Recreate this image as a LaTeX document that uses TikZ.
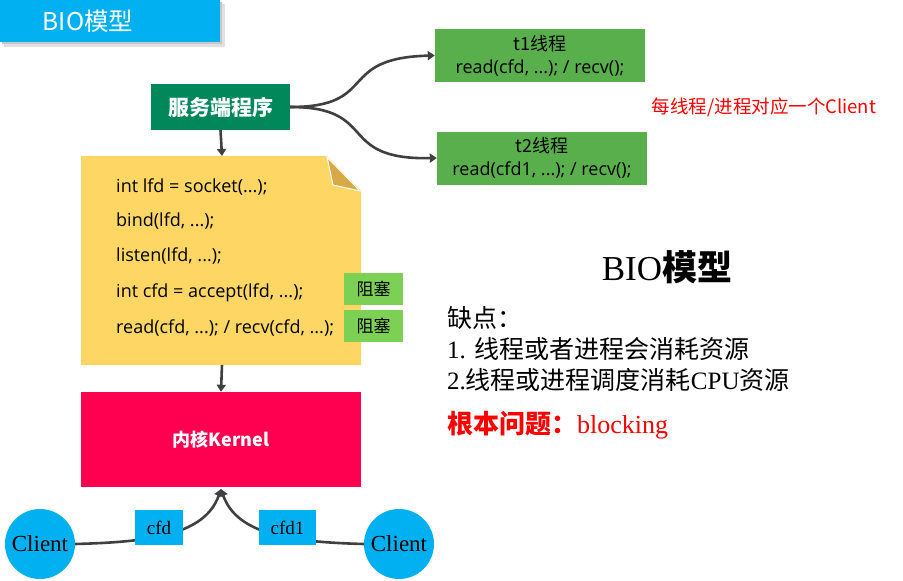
\documentclass[tikz,border=0pt]{standalone}
\usepackage{fontspec}
\setmainfont{Liberation Serif}
\setsansfont{Open Sans}
\newfontfamily\cjk{Noto Sans CJK SC}
\usetikzlibrary{arrows.meta}
\definecolor{tabcyan}{HTML}{00B0F0}
\definecolor{srvgreen}{HTML}{00875A}
\definecolor{thrgreen}{HTML}{58AF4B}
\definecolor{blkgreen}{HTML}{7CD155}
\definecolor{kernred}{HTML}{FF0050}
\definecolor{noteyel}{HTML}{FDD663}
\definecolor{foldyel}{HTML}{D9A847}
\definecolor{arrgray}{HTML}{404040}
\tikzset{
  conn/.style={draw=arrgray, line width=2.6pt, -{Triangle[length=7pt,width=9pt]}},
  codetxt/.style={anchor=base west, font=\sffamily\fontsize{18}{20}\selectfont, text=black, inner sep=0pt},
  thrbox/.style={fill=thrgreen, minimum width=210pt, minimum height=53pt, inner sep=0pt, align=center, font=\sffamily\fontsize{18}{23}\selectfont},
  blkbox/.style={fill=blkgreen, minimum width=59pt, minimum height=32pt, inner sep=0pt, font=\cjk\fontsize{17}{18}\selectfont},
  clientnode/.style={circle, fill=tabcyan, minimum size=70pt, inner sep=0pt, font=\fontsize{23}{24}\selectfont},
  fdbox/.style={fill=tabcyan, minimum height=35pt, inner sep=0pt, font=\fontsize{19}{20}\selectfont},
  rtxt/.style={anchor=base west, inner sep=0pt, font=\fontsize{25}{28}\selectfont}
}
\begin{document}
\begin{tikzpicture}[x=1pt,y=-1pt]
\useasboundingbox[fill=white] (0,0) rectangle (903,581);
% title tab with shadow
\fill[black!12] (4,4) rectangle (225,47);
\fill[black!22] (2,2) rectangle (222,44);
\node[fill=tabcyan, minimum width=220pt, minimum height=42pt, inner sep=0pt, anchor=north west] (tab) at (0,0) {};
\node[text=white, font=\cjk\fontsize{24.5}{26}\selectfont] (tabtxt) at (88,21) {BIO模型};
% server
\node[fill=srvgreen, minimum width=139pt, minimum height=46pt, inner sep=0pt, text=white, font=\cjk\bfseries\fontsize{21}{22}\selectfont] (srv) at (220.5,107) {服务端程序};
% note
\fill[noteyel] (81,156) -- (327,156) -- (361,191) -- (361,365) -- (81,365) -- cycle;
\coordinate (notetop) at (222,156);
\coordinate (notebot) at (222,365);
\filldraw[fill=foldyel, draw=white, line width=1pt] (327,157) -- (333,185) -- (360,191) -- cycle;
\node[codetxt] (l1) at (116,192) {int lfd = socket(...);};
\node[codetxt] (l2) at (116,226) {bind(lfd, ...);};
\node[codetxt] (l3) at (116,261) {listen(lfd, ...);};
\node[codetxt] (l4) at (116,297) {int cfd = accept(lfd, ...);};
\node[codetxt] (l5) at (116,333) {read(cfd, ...); / recv(cfd, ...);};
\node[blkbox] (b1) at (373.5,289) {阻塞};
\node[blkbox] (b2) at (373.5,326) {阻塞};
\draw[conn] (srv.south) -- (notetop);
% kernel
\node[fill=kernred, minimum width=280pt, minimum height=95pt, inner sep=0pt, text=white, font=\cjk\bfseries\fontsize{18}{20}\selectfont] (kern) at (221,439.5) {内核Kernel};
\draw[conn] (notebot) -- (kern.north);
% threads
\node[thrbox] (t1) at (540,55.5) {{\cjk t1线程}\\read(cfd, ...); / recv();};
\node[thrbox] (t2) at (542,158) {{\cjk t2线程}\\read(cfd1, ...); / recv();};
\draw[conn] (srv.east) .. controls (380,107) and (335,58) .. (t1.west);
\draw[conn] (srv.east) .. controls (380,107) and (335,160) .. (t2.west);
\node[text=red, font=\cjk\fontsize{18.5}{20}\selectfont] (note1) at (764,107) {每线程/进程对应一个Client};
% clients
\node[clientnode] (c1) at (40,544) {Client};
\node[clientnode] (c2) at (399,544) {Client};
\coordinate (ktip) at (221,489);
\draw[conn] (c1.east) .. controls (150,542) and (205,535) .. (ktip);
\draw[conn] (c2.west) .. controls (292,542) and (237,535) .. (ktip);
\node[fdbox, minimum width=48pt] (fd1) at (159,527.5) {cfd};
\node[fdbox, minimum width=57pt] (fd2) at (287.5,527.5) {cfd1};
% right text
\node[font=\fontsize{35}{38}\selectfont] (bio) at (667,267) {BIO{\cjk\bfseries 模型}};
\node[rtxt] (r1) at (447,327) {{\cjk 缺点：}};
\node[rtxt] (r2) at (447,358) {1. {\cjk 线程或者进程会消耗资源}};
\node[rtxt] (r3) at (447,389) {2.{\cjk 线程或进程调度消耗}CPU{\cjk 资源}};
\node[rtxt, text=red, font=\fontsize{26}{28}\selectfont] (r4) at (447,433) {{\cjk\bfseries 根本问题：}blocking};
\end{tikzpicture}
\end{document}
